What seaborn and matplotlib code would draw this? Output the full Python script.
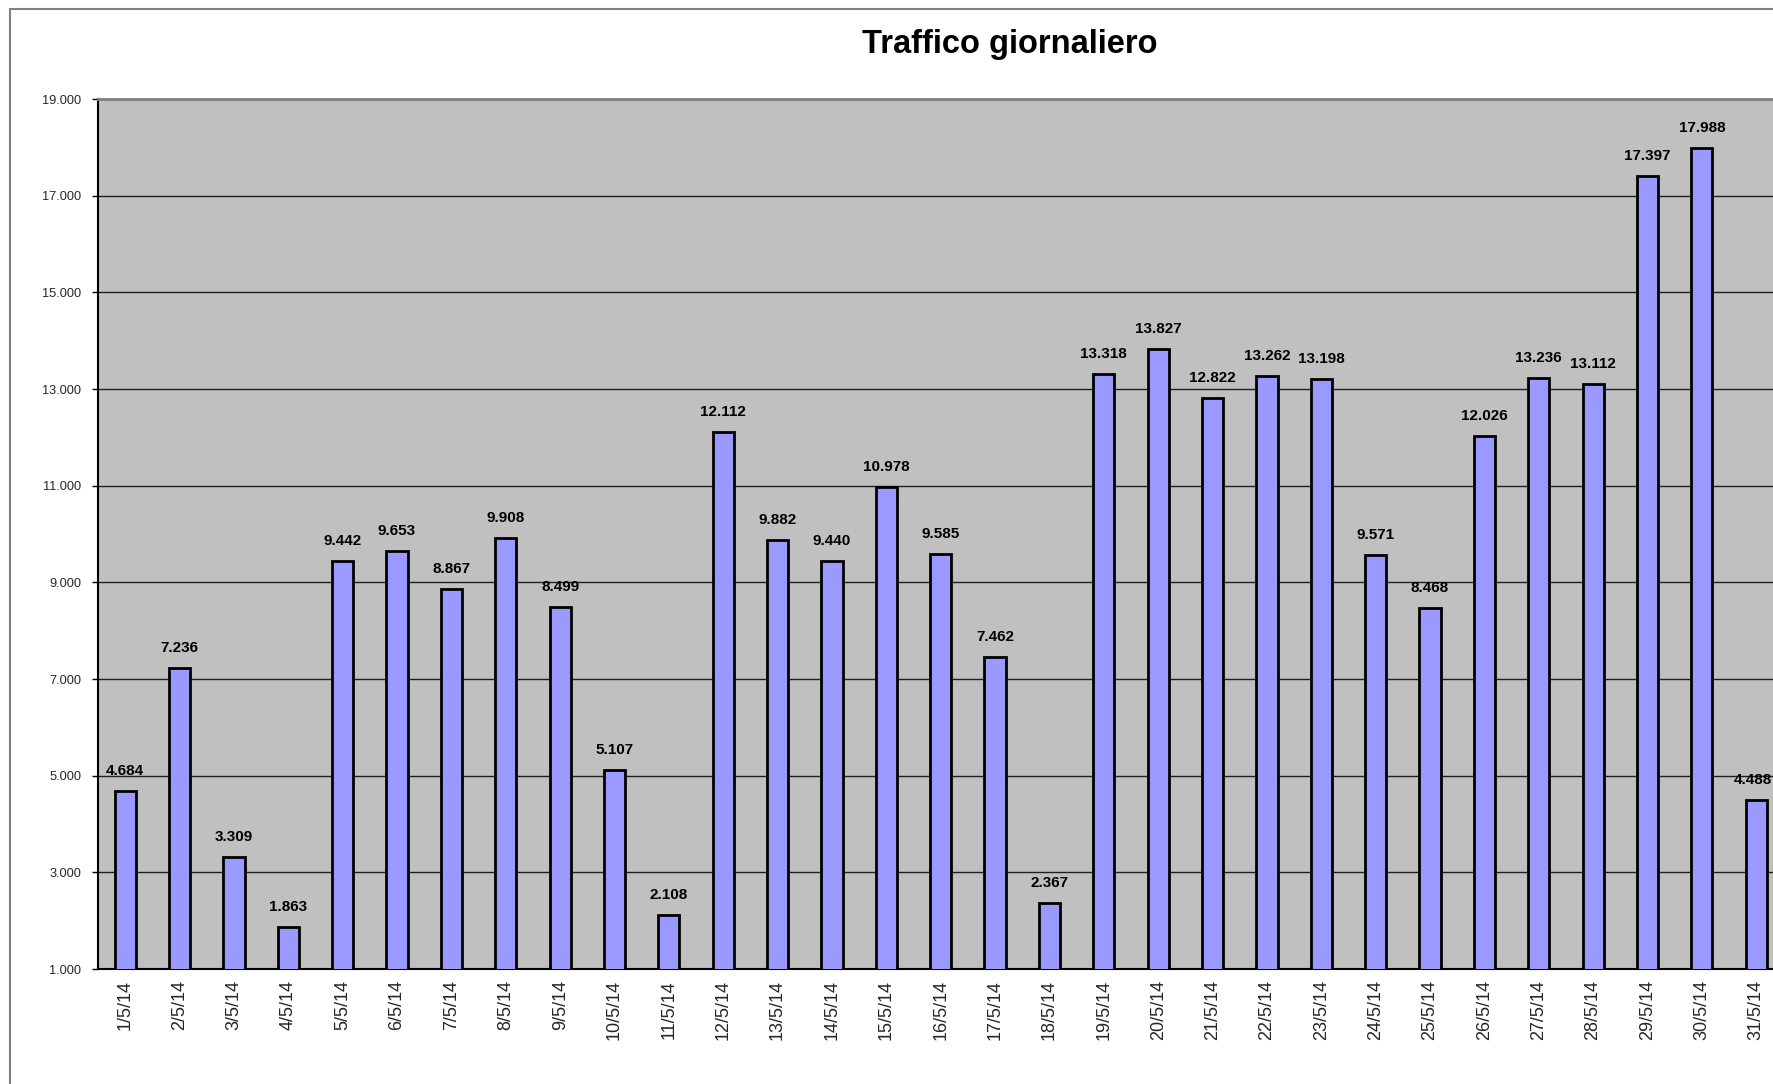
import matplotlib
matplotlib.use("Agg")
import matplotlib.pyplot as plt
import matplotlib.patches as mpatches
import seaborn as sns
import pandas as pd
import numpy as np

days = [f"{d}/5/14" for d in range(1, 32)]
traffic = [4684, 7236, 3309, 1863, 9442, 9653, 8867, 9908, 8499, 5107,
           2108, 12112, 9882, 9440, 10978, 9585, 7462, 2367, 13318, 13827,
           12822, 13262, 13198, 9571, 8468, 12026, 13236, 13112, 17397, 17988,
           4488]
yticks = list(range(1000, 19001, 2000))
title = "Traffico giornaliero"

def it_fmt(v):
    return f"{int(v):,}".replace(",", ".")

sns.set_style("white")
plt.rcParams['font.family'] = ['Liberation Sans', 'DejaVu Sans']

W, H = 1773, 1084
fig = plt.figure(figsize=(W / 100, H / 100), dpi=100)
fig.patch.set_facecolor("white")

left_px, right_px, top_px, bottom_px = 98, 1783.4, 99, 969
ax = fig.add_axes([left_px / W, 1 - bottom_px / H,
                   (right_px - left_px) / W, (bottom_px - top_px) / H])
ax.set_facecolor("#C0C0C0")

df = pd.DataFrame({"giorno": days, "traffico": traffic})
sns.barplot(data=df, x="giorno", y="traffico", color="#9999FF", saturation=1,
            edgecolor="black", linewidth=2, width=0.39, ax=ax, zorder=3)

ax.set_ylim(1000, 19000)
ax.set_xlim(-0.5, len(days) - 0.5)
ax.set_yticks(yticks)
ax.set_yticklabels([it_fmt(v) for v in yticks], fontsize=9.2)
ax.yaxis.grid(True, color="#202020", linewidth=1.0, zorder=1)
ax.set_axisbelow(True)

ax.set_xticks(range(len(days)))
ax.set_xticklabels(days, rotation=90, fontsize=13)
ax.set_xticks(np.arange(-0.5, len(days), 1.0), minor=True)
ax.tick_params(axis="x", which="major", length=0, pad=8)
ax.tick_params(axis="x", which="minor", length=5, width=1, color="black", direction="out")
ax.tick_params(axis="y", which="major", length=4, width=1, color="black", direction="out", pad=8, left=True)
ax.set_xlabel("")
ax.set_ylabel("")

for side in ["left", "bottom"]:
    ax.spines[side].set_color("black")
    ax.spines[side].set_linewidth(1.5)
ax.spines["top"].set_color("#808080")
ax.spines["top"].set_linewidth(2)
ax.spines["right"].set_visible(False)

labels = []
for i, v in enumerate(traffic):
    t = ax.annotate(it_fmt(v), xy=(i, v), xytext=(0, 14.4), textcoords="offset points",
                    ha="center", va="center", fontsize=11, fontweight="bold",
                    color="black", zorder=5, annotation_clip=False)
    labels.append(t)

fig.text(1010 / W, 1 - 44 / H, title, ha="center", va="center",
         fontsize=23.5, fontweight="bold", color="black")

border = mpatches.Rectangle((10 / W, -0.2), 1.5, 1 - 9 / H + 0.2,
                            transform=fig.transFigure, facecolor="none",
                            edgecolor="#808080", linewidth=1.5, zorder=10)
fig.patches.append(border)

# keep data labels inside the visible chart area (as the spreadsheet does)
fig.canvas.draw()
renderer = fig.canvas.get_renderer()
for t in labels:
    bb = t.get_window_extent(renderer)
    over = bb.x1 - (W - 1)
    if over > 0:
        ox, oy = t.xyann
        t.xyann = (ox - over * 72 / 100, oy)

fig.savefig("out.png", dpi=100)
